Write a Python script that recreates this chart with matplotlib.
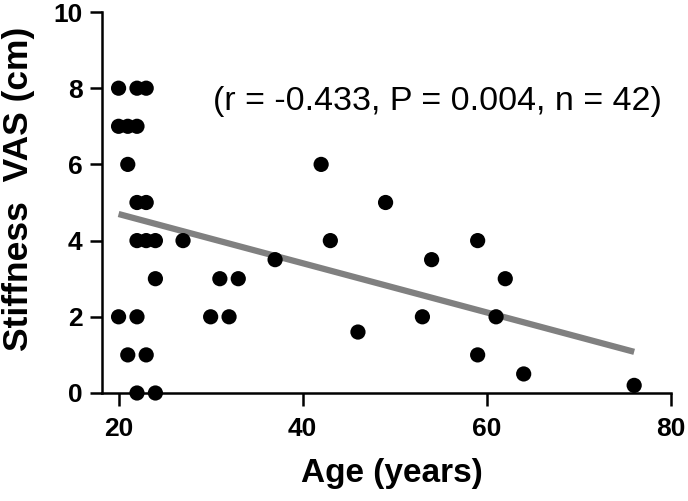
import matplotlib
matplotlib.use("Agg")
import matplotlib.pyplot as plt

plt.rcParams["font.family"] = ["Liberation Sans", "DejaVu Sans"]

# Age (years) vs stiffness VAS (cm)
age = [20, 22, 23, 20, 21, 22, 21, 22, 23, 22, 23, 24, 27,
       24, 31, 33, 20, 22, 30, 32, 21, 23, 22, 24, 37,
       42, 49, 43, 59, 54, 62, 53, 61, 46, 59, 64, 76]
vas = [8, 8, 8, 7, 7, 7, 6, 5, 5, 4, 4, 4, 4,
       3, 3, 3, 2, 2, 2, 2, 1, 1, 0, 0, 3.5,
       6, 5, 4, 4, 3.5, 3, 2, 2, 1.6, 1, 0.5, 0.2]

# fitted line (as drawn in the reference)
fit_intercept = 5.99
fit_slope = -0.0646
fit_x = [20, 76]

annotation = "(r = -0.433, P = 0.004, n = 42)"

fig = plt.figure(figsize=(6.88, 5.01), dpi=100)
ax = fig.add_axes([102 / 688, 108 / 501, 569 / 688, 381 / 501])

fit_y = [fit_intercept + fit_slope * x for x in fit_x]
ax.plot(fit_x, fit_y, color="#808080", linewidth=4.5, solid_capstyle="butt", zorder=2)
ax.scatter(age, vas, s=120, color="black", edgecolors="none", zorder=3, clip_on=False)

ax.set_xlim(18.2, 80)
ax.set_ylim(0, 10)
ax.set_xticks([20, 40, 60, 80])
ax.set_yticks([0, 2, 4, 6, 8, 10])

for side in ("top", "right"):
    ax.spines[side].set_visible(False)
for side in ("left", "bottom"):
    ax.spines[side].set_linewidth(1.8)
ax.tick_params(direction="out", length=9, width=1.8, labelsize=19)
ax.tick_params(axis="x", pad=8)
ax.tick_params(axis="y", pad=5)
for lab in ax.get_xticklabels() + ax.get_yticklabels():
    lab.set_fontweight("bold")

ax.set_xlabel("Age (years)", fontsize=24, fontweight="bold")
ax.xaxis.set_label_coords(0.51, -0.17)
ax.set_ylabel("Stiffness  VAS (cm)", fontsize=25.5, fontweight="bold")
ax.yaxis.set_label_coords(-0.117, 0.535)

ax.text(30.3, 7.64, annotation, fontsize=24.5, ha="left", va="center")

fig.savefig("out.png", dpi=100)
